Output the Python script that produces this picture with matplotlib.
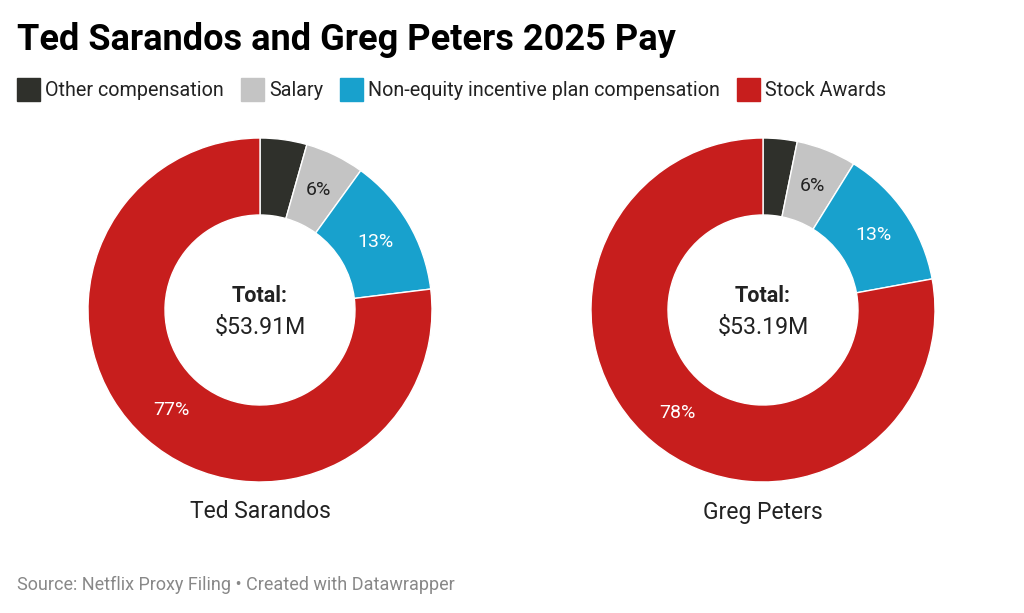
import numpy as np
import matplotlib.pyplot as plt
from matplotlib.patches import Rectangle

plt.rcParams['font.family'] = ['Roboto', 'DejaVu Sans']

categories = ["Other compensation", "Salary", "Non-equity incentive plan compensation", "Stock Awards"]
colors = ["#2f302b", "#c4c4c4", "#18a1cd", "#c71e1d"]
label_colors = ["white", "#222222", "white", "white"]

people = ["Ted Sarandos", "Greg Peters"]
# $M
sarandos = [2.37, 3.0, 7.06, 41.48]
peters = [1.70, 3.0, 7.06, 41.43]
totals = ["$53.91M", "$53.19M"]

W, H = 1024, 613
fig = plt.figure(figsize=(W / 100, H / 100), dpi=100)

fig.text(17 / W, 1 - 40 / H, "Ted Sarandos and Greg Peters 2025 Pay",
         fontsize=26, fontweight="bold", va="center", ha="left", color="#000000")

# legend, built by hand
fig.canvas.draw()
renderer = fig.canvas.get_renderer()
x = 17
for cat, col in zip(categories, colors):
    fig.add_artist(Rectangle((x / W, 1 - 101 / H), 23 / W, 23 / H,
                             transform=fig.transFigure, color=col))
    t = fig.text((x + 28) / W, 1 - 90 / H, cat, fontsize=14.2, va="center",
                 ha="left", color="#222222")
    bb = t.get_window_extent(renderer)
    x = x + 28 + bb.width + 17

R = 172
centers = [260, 763]
for person, vals, tot, cx in zip(people, [sarandos, peters], totals, centers):
    ax = fig.add_axes([(cx - R) / W, (H - 310 - R) / H, 2 * R / W, 2 * R / H])
    total = sum(vals)
    wedges, _ = ax.pie(vals, colors=colors, startangle=90, counterclock=False,
                       radius=1, wedgeprops=dict(width=1 - 95 / R, edgecolor="white", linewidth=1))
    # percent labels
    for w, v, lc in zip(wedges, vals, label_colors):
        pct = v / total * 100
        if pct < 5:
            continue
        ang = np.deg2rad((w.theta1 + w.theta2) / 2)
        r = (1 + 95 / R) / 2
        ax.text(r * np.cos(ang), r * np.sin(ang), f"{pct:.0f}%", ha="center",
                va="center", fontsize=14, color=lc)
    ax.text(0, 0.08, "Total:", ha="center", va="center", fontsize=15.5,
            fontweight="bold", color="#222222")
    ax.text(0, -0.1, tot, ha="center", va="center", fontsize=16.7, color="#222222")
    ax.set_xlim(-1, 1)
    ax.set_ylim(-1, 1)
    ax.set_aspect("equal")
    ax.axis("off")
    fig.text(cx / W, 1 - 512 / H, person, ha="center", va="center",
             fontsize=16.5, color="#222222")

fig.text(17 / W, 1 - 585 / H, "Source: Netflix Proxy Filing \u2022 Created with Datawrapper",
         fontsize=13, color="#888888", va="center", ha="left")

fig.savefig("out.png", dpi=100, facecolor="white")
